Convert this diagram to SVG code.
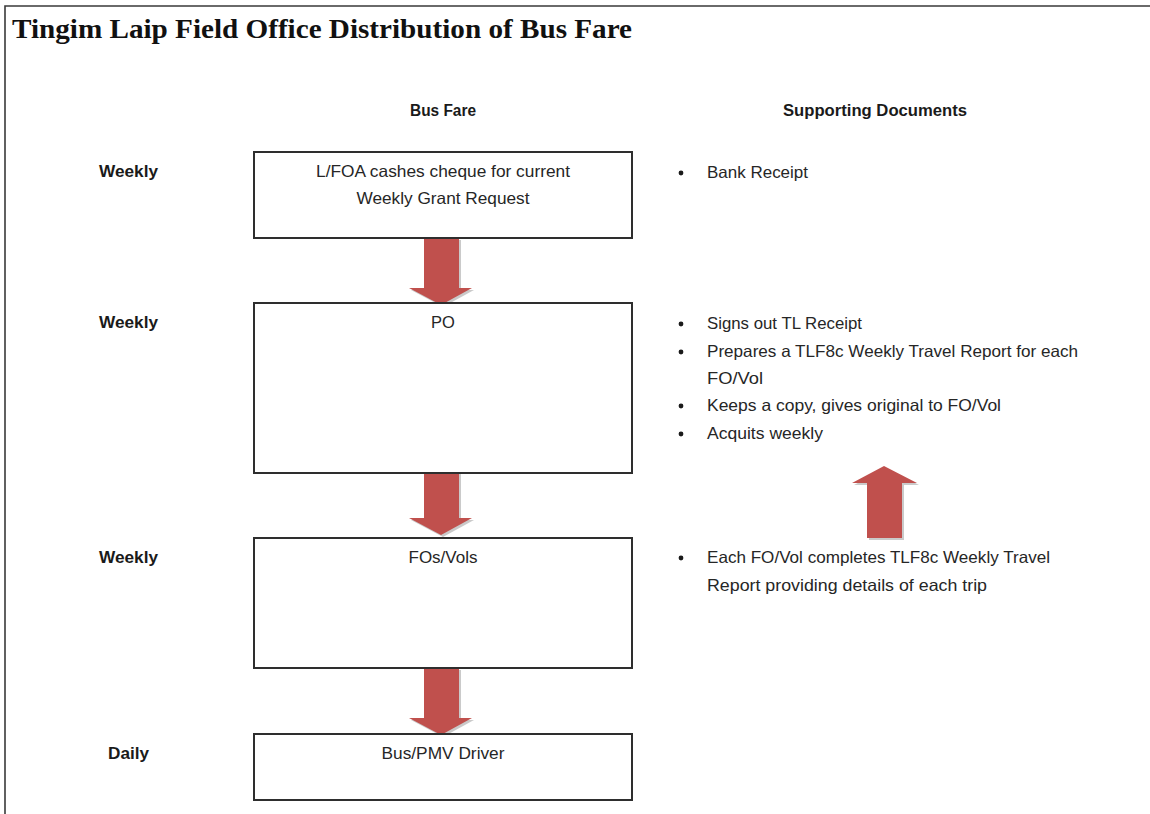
<svg xmlns="http://www.w3.org/2000/svg" width="1150" height="814" viewBox="0 0 1150 814">
<style>
.bg{fill:#ffffff}
.frame{stroke:#3a3a3a;stroke-width:1.6;fill:none}
.box{fill:#ffffff;stroke:#2e2e2e;stroke-width:2}
.t{font-family:"Liberation Sans",Arial,sans-serif;font-size:16.5px;fill:#262626}
.b{font-family:"Liberation Sans",Arial,sans-serif;font-size:16px;font-weight:bold;fill:#1a1a1a}
.title{font-family:"Liberation Serif","Times New Roman",serif;font-size:27px;font-weight:bold;fill:#111111}
.arrow{fill:#C0504D}
.shadow{fill:#8a8a8a;opacity:0.45}
.dot{fill:#1a1a1a}
</style>
<defs>
<path id="down" d="M-17,0 H18 V50 H31 L0,67 L-32,50 H-17 Z"/>
</defs>
<rect class="bg" x="0" y="0" width="1150" height="814"/>
<path class="frame" d="M5,814 V6 H1150"/>
<text class="title" x="12" y="38" textLength="620" lengthAdjust="spacingAndGlyphs">Tingim Laip Field Office Distribution of Bus Fare</text>

<g id="headers">
<text class="b" x="443" y="116" text-anchor="middle" textLength="66" lengthAdjust="spacingAndGlyphs">Bus Fare</text>
<text class="b" x="783" y="116" textLength="184" lengthAdjust="spacingAndGlyphs">Supporting Documents</text>
</g>

<g id="labels">
<text class="b" x="99" y="177" textLength="59" lengthAdjust="spacingAndGlyphs">Weekly</text>
<text class="b" x="99" y="328" textLength="59" lengthAdjust="spacingAndGlyphs">Weekly</text>
<text class="b" x="99" y="563" textLength="59" lengthAdjust="spacingAndGlyphs">Weekly</text>
<text class="b" x="108" y="759" textLength="41" lengthAdjust="spacingAndGlyphs">Daily</text>
</g>

<g id="connectors">
<use href="#down" class="shadow" x="443" y="240"/>
<use href="#down" class="arrow" x="441" y="238"/>
<use href="#down" class="shadow" x="443" y="470"/>
<use href="#down" class="arrow" x="441" y="468"/>
<use href="#down" class="shadow" x="443" y="670"/>
<use href="#down" class="arrow" x="441" y="668"/>
<path class="shadow" d="M869,540 H904 V485 H919 L886,468 L854,485 H869 Z"/>
<path class="arrow" d="M867,538 H902 V483 H917 L884,466 L852,483 H867 Z"/>
</g>

<g id="node-foa">
<rect class="box" x="254" y="152" width="378" height="86"/>
<text class="t" x="443" y="177" text-anchor="middle" textLength="254" lengthAdjust="spacingAndGlyphs">L/FOA cashes cheque for current</text>
<text class="t" x="443" y="204" text-anchor="middle" textLength="173" lengthAdjust="spacingAndGlyphs">Weekly Grant Request</text>
</g>

<g id="node-po">
<rect class="box" x="254" y="303" width="378" height="170"/>
<text class="t" x="443" y="328" text-anchor="middle">PO</text>
</g>

<g id="node-fos">
<rect class="box" x="254" y="538" width="378" height="130"/>
<text class="t" x="443" y="563" text-anchor="middle" textLength="69" lengthAdjust="spacingAndGlyphs">FOs/Vols</text>
</g>

<g id="node-driver">
<rect class="box" x="254" y="734" width="378" height="66"/>
<text class="t" x="443" y="759" text-anchor="middle" textLength="123" lengthAdjust="spacingAndGlyphs">Bus/PMV Driver</text>
</g>

<g id="docs-1">
<circle class="dot" cx="681" cy="173" r="2.4"/>
<text class="t" x="707" y="178" textLength="101" lengthAdjust="spacingAndGlyphs">Bank Receipt</text>
</g>

<g id="docs-2">
<circle class="dot" cx="681" cy="324" r="2.4"/>
<text class="t" x="707" y="329" textLength="155" lengthAdjust="spacingAndGlyphs">Signs out TL Receipt</text>
<circle class="dot" cx="681" cy="352" r="2.4"/>
<text class="t" x="707" y="357" textLength="371" lengthAdjust="spacingAndGlyphs">Prepares a TLF8c Weekly Travel Report for each</text>
<text class="t" x="707" y="384" textLength="56" lengthAdjust="spacingAndGlyphs">FO/Vol</text>
<circle class="dot" cx="681" cy="406" r="2.4"/>
<text class="t" x="707" y="411" textLength="294" lengthAdjust="spacingAndGlyphs">Keeps a copy, gives original to FO/Vol</text>
<circle class="dot" cx="681" cy="434" r="2.4"/>
<text class="t" x="707" y="439" textLength="116" lengthAdjust="spacingAndGlyphs">Acquits weekly</text>
</g>

<g id="docs-3">
<circle class="dot" cx="681" cy="558" r="2.4"/>
<text class="t" x="707" y="563" textLength="343" lengthAdjust="spacingAndGlyphs">Each FO/Vol completes TLF8c Weekly Travel</text>
<text class="t" x="707" y="591" textLength="280" lengthAdjust="spacingAndGlyphs">Report providing details of each trip</text>
</g>
</svg>
